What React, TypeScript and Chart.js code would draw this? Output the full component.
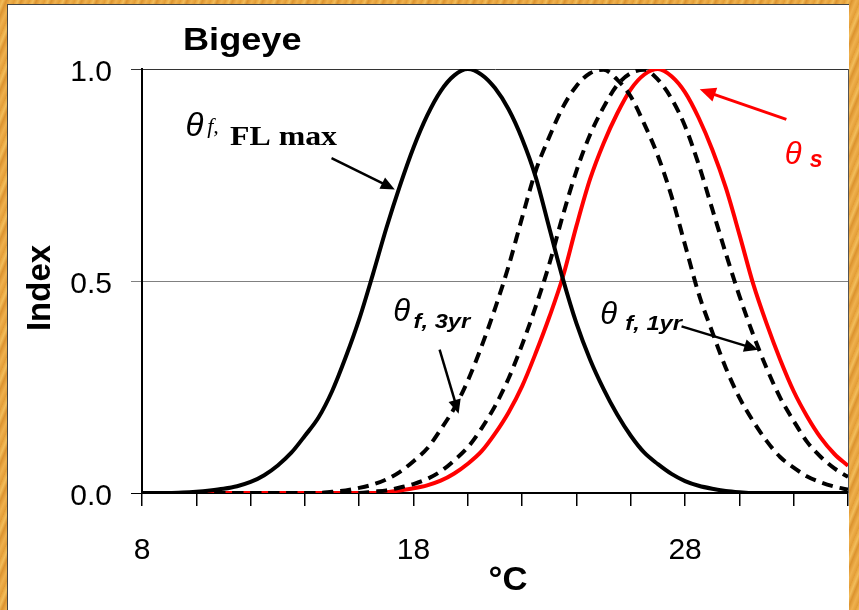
import React, { useEffect, useRef } from "react";
import { Chart, registerables } from "chart.js";

Chart.register(...registerables);

// Temperature (°C) sample points
const temps = [
  8, 8.5, 9, 9.5, 10, 10.5, 11, 11.5, 12, 12.5, 13, 13.5, 14, 14.5, 15, 15.5, 16, 16.5,
  17, 17.5, 18, 18.5, 19, 19.5, 20, 20.5, 21, 21.5, 22, 22.5, 23, 23.5, 24, 24.5, 25, 25.5,
  26, 26.5, 27, 27.5, 28, 28.5, 29, 29.5, 30, 30.5, 31, 31.5, 32, 32.5, 33, 33.5, 34,
];

// θ f,FL max (solid black)
const fishFLmax = [
  0, 0, 0, 0.001, 0.003, 0.006, 0.01, 0.016, 0.026, 0.042, 0.065, 0.095, 0.135, 0.178, 0.24, 0.32, 0.41, 0.515,
  0.625, 0.725, 0.815, 0.89, 0.948, 0.985, 1.0, 0.987, 0.955, 0.905, 0.835, 0.745, 0.625, 0.505, 0.4, 0.315, 0.245, 0.185,
  0.135, 0.095, 0.068, 0.045, 0.028, 0.017, 0.01, 0.005, 0.002, 0, 0, 0, 0, 0, 0, 0, 0,
];

// θ f,3yr (dashed, left)
const fish3yr = [
  null, null, null, null, 0, 0, 0, 0, 0, 0, 0, 0, 0, 0, 0.003, 0.006, 0.012, 0.02,
  0.032, 0.05, 0.075, 0.105, 0.15, 0.2, 0.265, 0.345, 0.435, 0.535, 0.65, 0.76, 0.84, 0.91, 0.96, 0.99, 0.998, 0.975,
  0.935, 0.87, 0.795, 0.7, 0.585, 0.47, 0.38, 0.295, 0.225, 0.17, 0.123, 0.085, 0.06, 0.039, 0.025, 0.015, 0.008,
];

// θ f,1yr (dashed, right)
const fish1yr = [
  null, null, null, null, 0, 0, 0, 0, 0, 0, 0, 0, 0, 0, 0, 0, 0, 0.003,
  0.006, 0.013, 0.021, 0.033, 0.051, 0.077, 0.108, 0.152, 0.205, 0.27, 0.35, 0.44, 0.54, 0.655, 0.76, 0.845, 0.91, 0.962,
  0.99, 0.998, 0.975, 0.93, 0.865, 0.775, 0.67, 0.565, 0.465, 0.375, 0.295, 0.225, 0.17, 0.12, 0.085, 0.058, 0.038,
];

// θ s (red)
const spawning = [
  null, null, null, null, 0, 0, 0, 0, 0, 0, 0, 0, 0, 0, 0, 0, 0, 0,
  0.002, 0.006, 0.011, 0.018, 0.029, 0.046, 0.069, 0.098, 0.14, 0.19, 0.252, 0.33, 0.415, 0.51, 0.63, 0.74, 0.825, 0.895,
  0.952, 0.987, 1.0, 0.983, 0.945, 0.885, 0.81, 0.72, 0.61, 0.495, 0.4, 0.315, 0.24, 0.18, 0.13, 0.092, 0.064,
];

const xTickLabels = [8, 18, 28];
const yTickLabels = [0, 0.5, 1];

const TEXT_FONT = "'Liberation Sans', Arial, sans-serif";
const SERIF_FONT = "'Liberation Serif', 'Times New Roman', serif";
const TICK_FONT = "'Liberation Sans', Arial, sans-serif";

function pairs(values: (number | null)[]) {
  return temps.map((t, i) => ({ x: t, y: values[i] }));
}

const annotationPlugin = {
  id: "annotations",
  beforeDatasetsDraw(chart: any) {
    const { ctx, chartArea } = chart;
    ctx.save();
    ctx.strokeStyle = "#555";
    ctx.lineWidth = 1;
    ctx.beginPath();
    ctx.moveTo(chartArea.right + 0.5, chartArea.top);
    ctx.lineTo(chartArea.right + 0.5, chartArea.bottom);
    ctx.stroke();
    ctx.restore();
  },
  afterDraw(chart: any) {
    const { ctx, scales } = chart;
    const px = (t: number) => scales.x.getPixelForValue(t);
    const py = (v: number) => scales.y.getPixelForValue(v);

    const text = (
      s: string,
      x: number,
      y: number,
      font: string,
      color = "#000",
      sx = 1,
      align: CanvasTextAlign = "left",
      rot = 0
    ) => {
      ctx.save();
      ctx.translate(x, y);
      if (rot) ctx.rotate(rot);
      ctx.scale(sx, 1);
      ctx.font = font;
      ctx.fillStyle = color;
      ctx.textAlign = align;
      ctx.textBaseline = "alphabetic";
      ctx.fillText(s, 0, 0);
      ctx.restore();
    };

    const arrow = (x1: number, y1: number, x2: number, y2: number, color: string, w: number, head: number) => {
      const ang = Math.atan2(y2 - y1, x2 - x1);
      ctx.save();
      ctx.strokeStyle = color;
      ctx.fillStyle = color;
      ctx.lineWidth = w;
      ctx.beginPath();
      ctx.moveTo(x1, y1);
      ctx.lineTo(x2 - Math.cos(ang) * head * 0.8, y2 - Math.sin(ang) * head * 0.8);
      ctx.stroke();
      ctx.beginPath();
      ctx.moveTo(x2, y2);
      ctx.lineTo(x2 - head * Math.cos(ang) + head * 0.45 * Math.sin(ang), y2 - head * Math.sin(ang) - head * 0.45 * Math.cos(ang));
      ctx.lineTo(x2 - head * Math.cos(ang) - head * 0.45 * Math.sin(ang), y2 - head * Math.sin(ang) + head * 0.45 * Math.cos(ang));
      ctx.closePath();
      ctx.fill();
      ctx.restore();
    };

    // Title
    text("Bigeye", 183, 50, `bold 32px ${TEXT_FONT}`, "#000", 1.13);
    // Axis titles
    text("Index", 50, 288, `bold 33px ${TEXT_FONT}`, "#000", 1, "center", -Math.PI / 2);
    text("°C", 508, 590, `bold 33px ${TEXT_FONT}`, "#000", 1.05, "center");

    // θ f,FL max
    text("θ", px(9.6), py(0.843), `italic 33px ${TEXT_FONT}`);
    text("f,", px(10.4), py(0.85), `italic 22px ${SERIF_FONT}`);
    text("FL max", px(11.24), py(0.82), `bold 27px ${SERIF_FONT}`, "#000", 1.18);
    arrow(px(14.98), py(0.79), px(17.31), py(0.716), "#000", 2.5, 14);

    // θ f,3yr
    text("θ", px(17.25), py(0.405), `italic 31px ${TEXT_FONT}`);
    text("f, 3yr", px(18.0), py(0.39), `bold italic 21px ${TEXT_FONT}`, "#000", 1.13);
    arrow(px(18.96), py(0.338), px(19.66), py(0.187), "#000", 2.5, 14);

    // θ f,1yr
    text("θ", px(24.88), py(0.398), `italic 31px ${TEXT_FONT}`);
    text("f, 1yr", px(25.8), py(0.385), `bold italic 21px ${TEXT_FONT}`, "#000", 1.13);
    arrow(px(27.87), py(0.393), px(30.69), py(0.338), "#000", 2.5, 14);

    // θ s
    text("θ", px(31.67), py(0.775), `italic 31px ${TEXT_FONT}`, "#ff0000");
    text("s", px(32.59), py(0.768), `bold italic 23px ${TEXT_FONT}`, "#ff0000");
    arrow(px(31.73), py(0.881), px(28.54), py(0.952), "#ff0000", 3, 16);
  },
};

export default function App() {
  const canvasRef = useRef<HTMLCanvasElement | null>(null);

  useEffect(() => {
    if (!canvasRef.current) return;
    const common = {
      borderWidth: 4,
      pointRadius: 0,
      cubicInterpolationMode: "monotone",
      fill: false,
    };
    const chart = new Chart(canvasRef.current, {
      type: "line",
      data: {
        datasets: [
          { ...common, label: "θ f,FL max", data: pairs(fishFLmax), borderColor: "#000", order: 1 },
          { ...common, label: "θ f,1yr", data: pairs(fish1yr), borderColor: "#000", borderDash: [11, 7], order: 2 },
          { ...common, label: "θ f,3yr", data: pairs(fish3yr), borderColor: "#000", borderDash: [11, 7], order: 3 },
          { ...common, label: "θ s", data: pairs(spawning), borderColor: "#ff0000", order: 4 },
        ] as any,
      },
      options: {
        responsive: false,
        animation: false,
        devicePixelRatio: 1,
        layout: { padding: { top: 69, right: 11, left: 0, bottom: 0 } },
        plugins: {
          legend: { display: false },
          tooltip: { enabled: false },
          title: { display: false },
        },
        scales: {
          x: {
            type: "linear",
            min: 8,
            max: 34,
            afterFit: (s: any) => {
              s.height = 117;
              s.paddingLeft = 0;
              s.paddingRight = 0;
            },
            ticks: {
              stepSize: 2,
              autoSkip: false,
              maxRotation: 0,
              padding: 27,
              color: "#000",
              font: { family: TICK_FONT, size: 30 },
              callback: (v: any) => (xTickLabels.includes(Number(v)) ? String(v) : ""),
            },
            grid: { drawOnChartArea: false, drawTicks: true, tickLength: 13, color: "#000", lineWidth: 1.5 },
            border: { color: "#000", width: 2 },
          },
          y: {
            min: 0,
            max: 1,
            afterFit: (s: any) => {
              s.width = 142;
            },
            ticks: {
              stepSize: 0.5,
              padding: 19,
              labelOffset: 4,
              color: "#000",
              font: { family: TICK_FONT, size: 30 },
              callback: (v: any) => (yTickLabels.includes(Number(v)) ? Number(v).toFixed(1) : ""),
            },
            grid: {
              drawTicks: true,
              tickLength: 11,
              lineWidth: 1,
              color: (c: any) =>
                c.tick && c.tick.value === 0 ? "#000" : c.tick && c.tick.value === 1 ? "#333" : "#808080",
            },
            border: { color: "#000", width: 2 },
          },
        },
      } as any,
      plugins: [annotationPlugin],
    });
    return () => chart.destroy();
  }, []);

  return (
    <div
      style={{
        position: "fixed",
        left: 0,
        top: 0,
        width: 859,
        height: 610,
        background:
          "repeating-linear-gradient(112deg, #e8a33c 0px, #f2bd5b 3px, #dc932f 6px, #efb14e 10px, #e29c36 14px)",
        overflow: "hidden",
      }}
    >
      <div
        style={{
          position: "absolute",
          left: 7,
          top: 4,
          width: 842,
          height: 606,
          background: "#fff",
          borderTop: "1px solid #444",
          borderLeft: "1px solid #444",
          boxSizing: "border-box",
        }}
      />
      <canvas
        ref={canvasRef}
        width={859}
        height={610}
        style={{ position: "absolute", left: 0, top: 0, width: 859, height: 610 }}
      />
    </div>
  );
}
